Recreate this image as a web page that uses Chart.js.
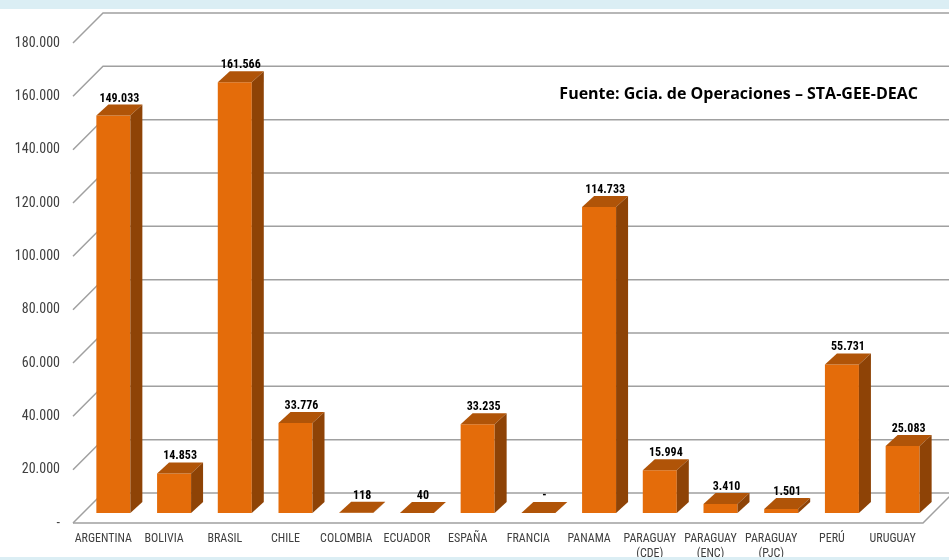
<!DOCTYPE html>
<html>
<head>
<meta charset="utf-8">
<script src="https://cdn.jsdelivr.net/npm/chart.js@4/dist/chart.umd.min.js"></script>
<style>
    html, body { margin: 0; padding: 0; background: #fff; }
    #wrap { width: 949px; height: 560px; position: relative; }
</style>
</head>
<body>
<div id="wrap"><canvas id="chart" width="949" height="560"></canvas></div>
<script>
const categories = [
    'ARGENTINA', 'BOLIVIA', 'BRASIL', 'CHILE', 'COLOMBIA', 'ECUADOR', 'ESPAÑA',
    'FRANCIA', 'PANAMA', ['PARAGUAY', '(CDE)'], ['PARAGUAY', '(ENC)'], ['PARAGUAY', '(PJC)'],
    'PERÚ', 'URUGUAY'
];
const values = [149033, 14853, 161566, 33776, 118, 40, 33235, 0, 114733, 15994, 3410, 1501, 55731, 25083];
const yMax = 180000;
const yStep = 20000;
const sourceNote = 'Fuente: Gcia. de Operaciones – STA-GEE-DEAC';

const narrow = "'Liberation Sans Narrow', 'Roboto Condensed', 'DejaVu Sans Condensed', sans-serif";

function fmt(v) {
    if (v === 0) return '-';
    return String(v).replace(/\B(?=(\d{3})+(?!\d))/g, '.');
}

// fake 3D: front plane, bar plane (chart area) and back wall
const FRONT = 10, BACK = 20;
const DX = 12, DY = 11;

const box3d = {
    id: 'box3d',
    beforeDatasetsDraw(chart) {
        const { ctx, chartArea: a, scales: { y } } = chart;
        ctx.save();
        ctx.strokeStyle = '#a0a0a0';
        ctx.lineWidth = 1.5;
        y.ticks.forEach(t => {
            const py = y.getPixelForValue(t.value);
            ctx.beginPath();
            ctx.moveTo(a.left - FRONT, py + FRONT);
            ctx.lineTo(a.left + BACK, py - BACK);
            ctx.lineTo(a.right + BACK, py - BACK);
            ctx.stroke();
        });
        const y0 = y.getPixelForValue(0);
        ctx.beginPath();
        ctx.moveTo(a.left - FRONT, y0 + FRONT);
        ctx.lineTo(a.right - FRONT, y0 + FRONT);
        ctx.lineTo(a.right + BACK, y0 - BACK);
        ctx.stroke();
        ctx.restore();
    },
    afterDatasetsDraw(chart) {
        const { ctx } = chart;
        const meta = chart.getDatasetMeta(0);
        ctx.save();
        meta.data.forEach((bar, i) => {
            const { x, y, base, width } = bar.getProps(['x', 'y', 'base', 'width'], true);
            const l = x - width / 2, r = x + width / 2;
            ctx.fillStyle = '#b05408';
            ctx.beginPath();
            ctx.moveTo(l, y);
            ctx.lineTo(r, y);
            ctx.lineTo(r + DX, y - DY);
            ctx.lineTo(l + DX, y - DY);
            ctx.closePath();
            ctx.fill();
            ctx.fillStyle = '#8e4306';
            ctx.beginPath();
            ctx.moveTo(r, y);
            ctx.lineTo(r + DX, y - DY);
            ctx.lineTo(r + DX, base - DY);
            ctx.lineTo(r, base);
            ctx.closePath();
            ctx.fill();

            ctx.fillStyle = '#000';
            ctx.font = 'bold 12px ' + narrow;
            ctx.textAlign = 'center';
            ctx.textBaseline = 'middle';
            ctx.fillText(fmt(values[i]), x + 6, y - 17);
        });

        ctx.fillStyle = '#000';
        ctx.font = "bold 16px 'Open Sans', sans-serif";
        ctx.textAlign = 'right';
        ctx.textBaseline = 'middle';
        ctx.fillText(sourceNote, 918, 94);
        ctx.restore();
    },
    afterDraw(chart) {
        const { ctx, width, height } = chart;
        ctx.save();
        ctx.fillStyle = '#dbeef4';
        ctx.fillRect(0, 0, width, 9);
        ctx.fillRect(0, height - 3, width, 3);
        ctx.restore();
    }
};

const ctx = document.getElementById('chart').getContext('2d');
new Chart(ctx, {
    type: 'bar',
    data: {
        labels: categories,
        datasets: [{
            data: values,
            backgroundColor: '#e46c0a',
            borderWidth: 0,
            categoryPercentage: 1,
            barPercentage: 0.56
        }]
    },
    options: {
        responsive: false,
        animation: false,
        layout: { padding: { top: 33, right: 16, left: 0, bottom: 0 } },
        plugins: {
            legend: { display: false },
            tooltip: { enabled: false }
        },
        scales: {
            x: {
                grid: { display: false, drawTicks: false },
                border: { display: false },
                ticks: {
                    color: '#404040',
                    font: { family: narrow, size: 12 },
                    padding: 19,
                    labelOffset: -10,
                    maxRotation: 0,
                    autoSkip: false
                },
                afterFit(scale) { scale.height = 47; }
            },
            y: {
                min: 0,
                max: yMax,
                grid: { display: false, drawTicks: false },
                border: { display: false },
                ticks: {
                    stepSize: yStep,
                    color: '#404040',
                    font: { family: narrow, size: 14 },
                    padding: 23,
                    labelOffset: 10,
                    callback: v => fmt(v)
                },
                afterFit(scale) { scale.width = 83; }
            }
        }
    },
    plugins: [box3d]
});
</script>
</body>
</html>
